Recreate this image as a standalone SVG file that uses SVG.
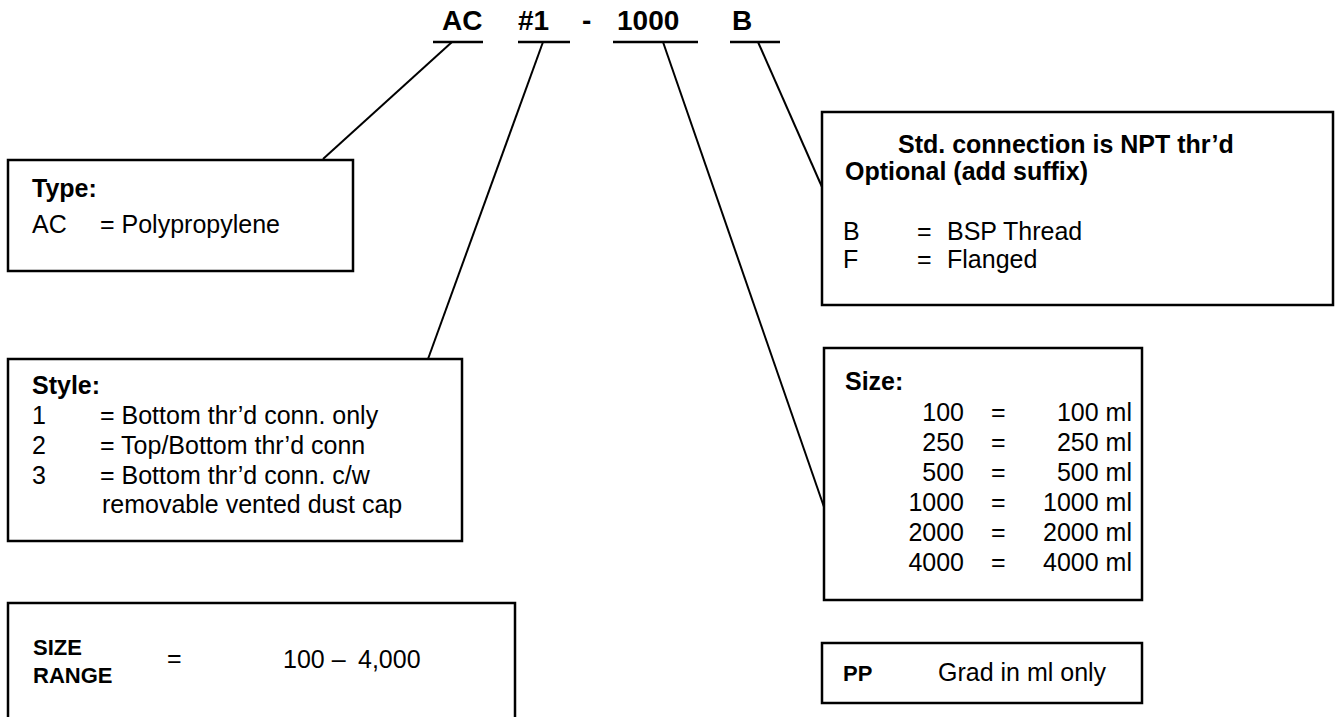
<svg xmlns="http://www.w3.org/2000/svg" width="1336" height="717" viewBox="0 0 1336 717">
<style>
text{font-family:"Liberation Sans",Arial,sans-serif;fill:#000}
.t{font-size:28px;font-weight:bold}
.b{font-size:25px}
.bb{font-size:25px;font-weight:bold}
.s{font-size:22px;font-weight:bold}
.box{fill:#fff;stroke:#000;stroke-width:2.5}
.ln{stroke:#000;stroke-width:2;fill:none}
.ul{stroke:#000;stroke-width:2.5}
</style>
<rect width="1336" height="717" fill="#fff"/>
<g id="title">
<text class="t" x="442" y="30">AC</text>
<text class="t" x="518" y="30">#1</text>
<text class="t" x="582" y="30">-</text>
<text class="t" x="617" y="30">1000</text>
<text class="t" x="732" y="30">B</text>
<line class="ul" x1="433" y1="42" x2="483" y2="42"/>
<line class="ul" x1="518" y1="42" x2="570" y2="42"/>
<line class="ul" x1="613" y1="42" x2="698" y2="42"/>
<line class="ul" x1="730" y1="42" x2="780" y2="42"/>
</g>
<g id="connectors">
<line class="ln" x1="452" y1="42" x2="323" y2="159"/>
<line class="ln" x1="543" y1="42" x2="428" y2="359"/>
<line class="ln" x1="663" y1="42" x2="824" y2="507"/>
<line class="ln" x1="758" y1="42" x2="822" y2="187"/>
</g>
<g id="type">
<rect class="box" x="8" y="160" width="345" height="111"/>
<text class="bb" x="32" y="197">Type:</text>
<text class="b" x="32" y="233">AC</text>
<text class="b" x="100" y="233">= Polypropylene</text>
</g>
<g id="style">
<rect class="box" x="8" y="359" width="454" height="182"/>
<text class="bb" x="32" y="394">Style:</text>
<text class="b" x="32" y="424">1</text>
<text class="b" x="100" y="424">= Bottom thr’d conn. only</text>
<text class="b" x="32" y="454">2</text>
<text class="b" x="100" y="454">= Top/Bottom thr’d conn</text>
<text class="b" x="32" y="484">3</text>
<text class="b" x="100" y="484">= Bottom thr’d conn. c/w</text>
<text class="b" x="102" y="513">removable vented dust cap</text>
</g>
<g id="sizerange">
<rect class="box" x="8" y="603" width="507" height="130"/>
<text class="s" x="33" y="655">SIZE</text>
<text class="s" x="33" y="683">RANGE</text>
<text class="b" x="167" y="667">=</text>
<text class="b" x="283" y="668">100 –<tspan x="358">4,000</tspan></text>
</g>
<g id="connection">
<rect class="box" x="822" y="112" width="511" height="193"/>
<text class="bb" x="898" y="153">Std. connection is NPT thr’d</text>
<text class="bb" x="845" y="180">Optional (add suffix)</text>
<text class="b" x="843" y="240">B</text>
<text class="b" x="917" y="240">=</text>
<text class="b" x="947" y="240">BSP Thread</text>
<text class="b" x="843" y="268">F</text>
<text class="b" x="917" y="268">=</text>
<text class="b" x="947" y="268">Flanged</text>
</g>
<g id="size">
<rect class="box" x="824" y="348" width="318" height="252"/>
<text class="bb" x="845" y="390">Size:</text>
<g text-anchor="end">
<text class="b" x="964" y="421">100</text>
<text class="b" x="964" y="451">250</text>
<text class="b" x="964" y="481">500</text>
<text class="b" x="964" y="511">1000</text>
<text class="b" x="964" y="541">2000</text>
<text class="b" x="964" y="571">4000</text>
<text class="b" x="1132" y="421">100 ml</text>
<text class="b" x="1132" y="451">250 ml</text>
<text class="b" x="1132" y="481">500 ml</text>
<text class="b" x="1132" y="511">1000 ml</text>
<text class="b" x="1132" y="541">2000 ml</text>
<text class="b" x="1132" y="571">4000 ml</text>
</g>
<text class="b" x="991" y="421">=</text>
<text class="b" x="991" y="451">=</text>
<text class="b" x="991" y="481">=</text>
<text class="b" x="991" y="511">=</text>
<text class="b" x="991" y="541">=</text>
<text class="b" x="991" y="571">=</text>
</g>
<g id="pp">
<rect class="box" x="822" y="643" width="320" height="60"/>
<text class="s" x="843" y="681">PP</text>
<text class="b" x="938" y="681">Grad in ml only</text>
</g>
</svg>
